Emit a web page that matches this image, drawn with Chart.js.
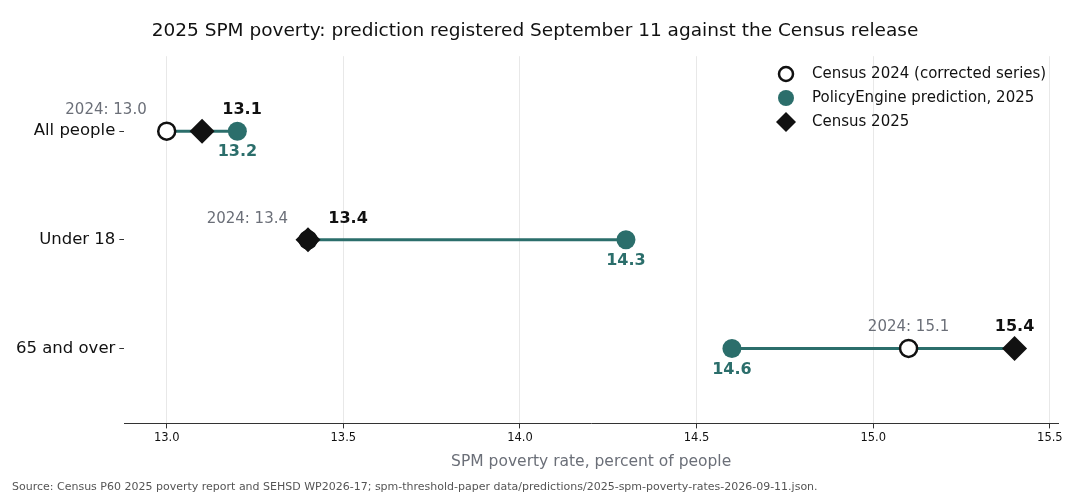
<!DOCTYPE html>
<html><head><meta charset="utf-8">
<script src="https://cdn.jsdelivr.net/npm/chart.js@4"></script>
<style>html,body{margin:0;background:#fff}#w{width:1080px;height:504px}</style>
</head><body><div id="w"><canvas id="c"></canvas></div>
<script>
const categories=["All people","Under 18","65 and over"];
const census2024=[13.0,13.4,15.1];
const prediction2025=[13.2,14.3,14.6];
const census2025=[13.1,13.4,15.4];
const xTicks=[13.0,13.5,14.0,14.5,15.0,15.5];
// label placement: 'side' = left/right offset, 'center' = centered above
const placement=["side","side","center"];
const TEAL="#2b6e6b";
const lines=categories.map((c,i)=>{const v=[census2024[i],prediction2025[i],census2025[i]];return {type:'line',data:[{x:Math.min(...v),y:i},{x:Math.max(...v),y:i}],borderColor:TEAL,borderWidth:3,pointRadius:0,showLine:true,order:5}});
const labels={id:'lbl',afterDatasetsDraw(ch){const x=ch.scales.x,y=ch.scales.y,ctx=ch.ctx;ctx.save();
categories.forEach((c,i)=>{const py=y.getPixelForValue(i);
 ctx.font='15px "DejaVu Sans"';ctx.fillStyle='#6b6f78';ctx.textBaseline='alphabetic';
 const cx=x.getPixelForValue(census2024[i]);
 if(placement[i]==='side'){ctx.textAlign='right';ctx.fillText('2024: '+census2024[i].toFixed(1),cx-20,py-17);}
 else{ctx.textAlign='center';ctx.fillText('2024: '+census2024[i].toFixed(1),cx,py-17);}
 const dx=x.getPixelForValue(census2025[i]);
 ctx.font='bold 16px "DejaVu Sans"';ctx.fillStyle='#111';ctx.textAlign='center';
 ctx.fillText(census2025[i].toFixed(1),placement[i]==='side'?dx+40:dx,py-17);
 const px=x.getPixelForValue(prediction2025[i]);
 ctx.fillStyle=TEAL;ctx.textBaseline='top';ctx.fillText(prediction2025[i].toFixed(1),px,py+13);
});
const L=[['circ','Census 2024 (corrected series)'],['dot','PolicyEngine prediction, 2025'],['dia','Census 2025']];
ctx.font='15px "DejaVu Sans"';ctx.textAlign='left';ctx.textBaseline='middle';
L.forEach((l,k)=>{const lx=786,ly=74+k*24;
 ctx.beginPath();
 if(l[0]==='circ'){ctx.arc(lx,ly,7,0,7);ctx.lineWidth=2.5;ctx.strokeStyle='#111';ctx.fillStyle='#fff';ctx.fill();ctx.stroke();}
 else if(l[0]==='dot'){ctx.arc(lx,ly,8,0,7);ctx.fillStyle=TEAL;ctx.fill();}
 else{ctx.moveTo(lx,ly-10);ctx.lineTo(lx+10,ly);ctx.lineTo(lx,ly+10);ctx.lineTo(lx-10,ly);ctx.closePath();ctx.fillStyle='#111';ctx.fill();}
 ctx.fillStyle='#111';ctx.fillText(l[1],lx+26,ly);});
ctx.restore();}};
new Chart(document.getElementById('c'),{type:'scatter',
data:{datasets:[...lines,
 {data:census2024.map((v,i)=>({x:v,y:i})),pointStyle:'circle',pointRadius:8.5,pointBorderWidth:2.5,borderColor:'#111',backgroundColor:'#fff',order:3},
 {data:prediction2025.map((v,i)=>({x:v,y:i})),pointStyle:'circle',pointRadius:9.5,borderWidth:0,backgroundColor:TEAL,order:2},
 {data:census2025.map((v,i)=>({x:v,y:i})),pointStyle:'rectRot',pointRadius:12.5,borderWidth:0,backgroundColor:'#111',order:1}]},
options:{responsive:true,maintainAspectRatio:false,animation:false,
 layout:{padding:{left:12,right:22,top:0,bottom:0}},
 plugins:{legend:{display:false},tooltip:{enabled:false},
  title:{display:true,text:'2025 SPM poverty: prediction registered September 11 against the Census release',font:{family:'DejaVu Sans',size:18.5,weight:'normal'},color:'#111',padding:{top:20,bottom:14}},
  subtitle:{display:true,position:'bottom',align:'start',text:'Source: Census P60 2025 poverty report and SEHSD WP2026-17; spm-threshold-paper data/predictions/2025-spm-poverty-rates-2026-09-11.json.',font:{family:'DejaVu Sans',size:11},color:'#555',padding:{top:6,bottom:10}}},
 scales:{
  x:{type:'linear',min:12.88,max:15.523,afterBuildTicks(s){s.ticks=xTicks.map(v=>({value:v}));},
   ticks:{callback:v=>v.toFixed(1),font:{family:'DejaVu Sans',size:11.5},color:'#111',maxRotation:0},
   grid:{color:'#e8e8e8',drawTicks:true,tickColor:'#333',tickLength:5},border:{color:'#333'},
   title:{display:true,text:'SPM poverty rate, percent of people',font:{family:'DejaVu Sans',size:15.5},color:'#6b6f78',padding:{top:4}}},
  y:{type:'linear',min:-0.69,max:2.69,reverse:true,afterBuildTicks(s){s.ticks=categories.map((c,i)=>({value:i}));},
   ticks:{callback:v=>categories[v],font:{family:'DejaVu Sans',size:16.5},color:'#111',padding:4},
   grid:{display:true,drawOnChartArea:false,color:'transparent',drawTicks:true,tickColor:'#333',tickLength:5},border:{display:false}}}},
plugins:[labels]});
</script></body></html>
